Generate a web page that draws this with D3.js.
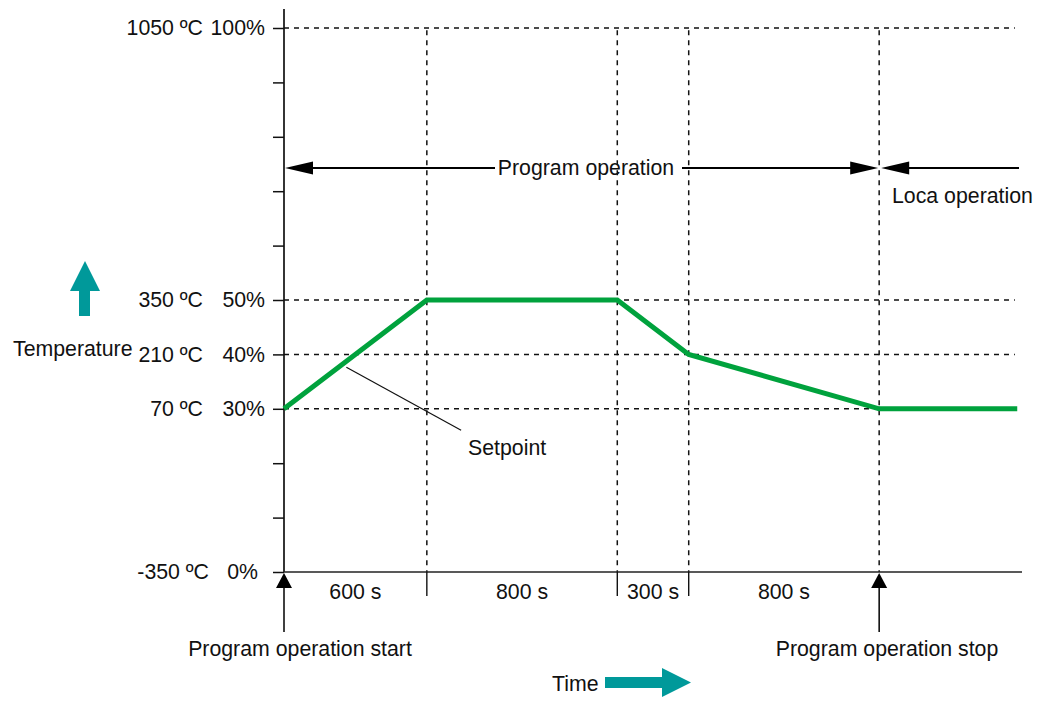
<!DOCTYPE html>
<html>
<head>
<meta charset="utf-8">
<script src="https://cdn.jsdelivr.net/npm/d3@7/dist/d3.min.js"></script>
<style>
  html, body { margin: 0; padding: 0; background: #fff; }
  svg text { font-family: "Liberation Sans", Arial, sans-serif; font-size: 21.3px; fill: #111; }
</style>
</head>
<body>
<svg id="chart" width="1048" height="702"></svg>
<script>
// Program segments (durations in seconds) and their labels
const segmentDurations = [600, 800, 300, 800];
const segmentLabels = ["600 s", "800 s", "300 s", "800 s"];

// Setpoint profile: time (s) and temperature (ºC)
const setpointTimes = [0, 600, 1400, 1700, 2500, 3080];
const setpointTemps = [70, 350, 350, 210, 70, 70];

// Vertical axis: percentage ticks and the labelled rows
const percentTicks = [0, 10, 20, 30, 40, 50, 60, 70, 80, 90, 100];
const labelledPercents = [0, 30, 40, 50, 100];
const percentLabels = ["0%", "30%", "40%", "50%", "100%"];
const tempLabels = ["-350 ºC", "70 ºC", "210 ºC", "350 ºC", "1050 ºC"];

const svg = d3.select("#chart");

const x = d3.scaleLinear().domain([0, 3100]).range([284, 1022]);
const yPct = d3.scaleLinear().domain([0, 100]).range([572, 28]);
const yTemp = d3.scaleLinear().domain([-350, 1050]).range([572, 28]);

const boundaries = d3.cumsum(segmentDurations);           // 600, 1400, 1700, 2500
const starts = [0, ...boundaries.slice(0, -1)];
const stopTime = boundaries[boundaries.length - 1];

// Dashed grid: horizontal at labelled rows, vertical at segment boundaries
const grid = svg.append("g").attr("stroke", "#111").attr("stroke-width", 1.5)
  .attr("stroke-dasharray", "5,5").attr("fill", "none");
grid.selectAll("line.h").data(labelledPercents.filter(p => p > 0)).join("line")
  .attr("class", "h")
  .attr("x1", x(0)).attr("x2", x(3070))
  .attr("y1", d => yPct(d)).attr("y2", d => yPct(d));
grid.selectAll("line.v").data(boundaries).join("line")
  .attr("class", "v")
  .attr("x1", d => x(d)).attr("x2", d => x(d))
  .attr("y1", yPct(99.6)).attr("y2", yPct(0));

// Left axis ticks
const yAxis = d3.axisLeft(yPct).tickValues(percentTicks).tickSize(11).tickSizeOuter(0).tickFormat("");
const yg = svg.append("g").attr("transform", `translate(${x(0)},0)`).call(yAxis);
yg.select(".domain").remove();
yg.selectAll(".tick line").attr("stroke", "#111").attr("stroke-width", 1.5);

// Axis lines
svg.append("line").attr("x1", x(0)).attr("x2", x(0))
  .attr("y1", yPct(103.5)).attr("y2", yPct(0))
  .attr("stroke", "#111").attr("stroke-width", 1.7);
svg.append("line").attr("x1", x(0)).attr("x2", x(3100))
  .attr("y1", yPct(0)).attr("y2", yPct(0))
  .attr("stroke", "#222").attr("stroke-width", 1.7);

// Row labels: percentage and temperature
labelledPercents.forEach((p, i) => {
  const shift = p === 0 ? 7 : 0;
  svg.append("text").attr("x", 265 - shift).attr("y", yPct(p)).attr("dy", "0.35em")
    .attr("text-anchor", "end").text(percentLabels[i]);
  svg.append("text").attr("x", 203 + (p === 0 ? 6 : 0)).attr("y", yPct(p)).attr("dy", "0.35em")
    .attr("text-anchor", "end").text(tempLabels[i]);
});

// Segment boundary ticks below the time axis
svg.append("g").selectAll("line").data(boundaries.slice(0, -1)).join("line")
  .attr("x1", d => x(d)).attr("x2", d => x(d))
  .attr("y1", yPct(0)).attr("y2", yPct(0) + 24)
  .attr("stroke", "#111").attr("stroke-width", 1.4);

// Segment duration labels
svg.append("g").selectAll("text").data(segmentLabels).join("text")
  .attr("x", (d, i) => (x(starts[i]) + x(boundaries[i])) / 2)
  .attr("y", yPct(0) + 20).attr("dy", "0.35em")
  .attr("text-anchor", "middle").text(d => d);

// Setpoint line
const line = d3.line().x(d => x(d[0])).y(d => yTemp(d[1]));
svg.append("path")
  .datum(setpointTimes.map((t, i) => [t, setpointTemps[i]]))
  .attr("d", line).attr("fill", "none")
  .attr("stroke", "#00a23d").attr("stroke-width", 5).attr("stroke-linejoin", "miter");

// Setpoint leader and label
svg.append("line").attr("x1", x(262)).attr("y1", yTemp(177))
  .attr("x2", x(744)).attr("y2", yTemp(15))
  .attr("stroke", "#111").attr("stroke-width", 1.2);
svg.append("text").attr("x", 468).attr("y", 448).attr("dy", "0.35em").text("Setpoint");

// Arrowhead helper: tip at (tx, ty), pointing in direction dir
function head(tx, ty, dir, len, half) {
  const [dx, dy] = dir;
  const bx = tx - dx * len, by = ty - dy * len;
  const px = -dy * half, py = dx * half;
  return `M${tx},${ty}L${bx + px},${by + py}L${bx - px},${by - py}Z`;
}

// Program operation / Loca operation span arrows
const spanY = 168;
const spans = svg.append("g");
spans.append("line").attr("x1", x(0) + 20).attr("x2", 495).attr("y1", spanY).attr("y2", spanY)
  .attr("stroke", "#000").attr("stroke-width", 2.2);
spans.append("line").attr("x1", 682).attr("x2", x(stopTime) - 20).attr("y1", spanY).attr("y2", spanY)
  .attr("stroke", "#000").attr("stroke-width", 2.2);
spans.append("line").attr("x1", x(stopTime) + 20).attr("x2", 1019).attr("y1", spanY).attr("y2", spanY)
  .attr("stroke", "#000").attr("stroke-width", 2.2);
spans.append("path").attr("d", head(x(0) + 1, spanY, [-1, 0], 28, 6.5)).attr("fill", "#000");
spans.append("path").attr("d", head(x(stopTime) - 1, spanY, [1, 0], 28, 6.5)).attr("fill", "#000");
spans.append("path").attr("d", head(x(stopTime) + 2, spanY, [-1, 0], 28, 6.5)).attr("fill", "#000");
svg.append("text").attr("x", 586).attr("y", spanY).attr("dy", "0.35em")
  .attr("text-anchor", "middle").text("Program operation");
svg.append("text").attr("x", 892).attr("y", 196).attr("dy", "0.35em").text("Loca operation");

// Start / stop markers below the time axis
[[0, "Program operation start", 300], [stopTime, "Program operation stop", 887]].forEach(([t, label, cx]) => {
  svg.append("line").attr("x1", x(t)).attr("x2", x(t))
    .attr("y1", yPct(0) + 12).attr("y2", 632)
    .attr("stroke", "#000").attr("stroke-width", 1.5);
  svg.append("path").attr("d", head(x(t), yPct(0) + 1, [0, -1], 15, 8)).attr("fill", "#000");
  svg.append("text").attr("x", cx).attr("y", 649).attr("dy", "0.35em")
    .attr("text-anchor", "middle").text(label);
});

// Axis titles with teal direction arrows
const teal = "#00999a";
svg.append("text").attr("x", 13).attr("y", 349).attr("dy", "0.35em").text("Temperature");
svg.append("path").attr("d", "M85,261L100,291L90,291L90,316L79,316L79,291L70,291Z").attr("fill", teal);
svg.append("text").attr("x", 552).attr("y", 684).attr("dy", "0.35em").text("Time");
svg.append("path").attr("d", "M605,677L662,677L662,668L691,682.5L662,697L662,688L605,688Z").attr("fill", teal);
</script>
</body>
</html>
